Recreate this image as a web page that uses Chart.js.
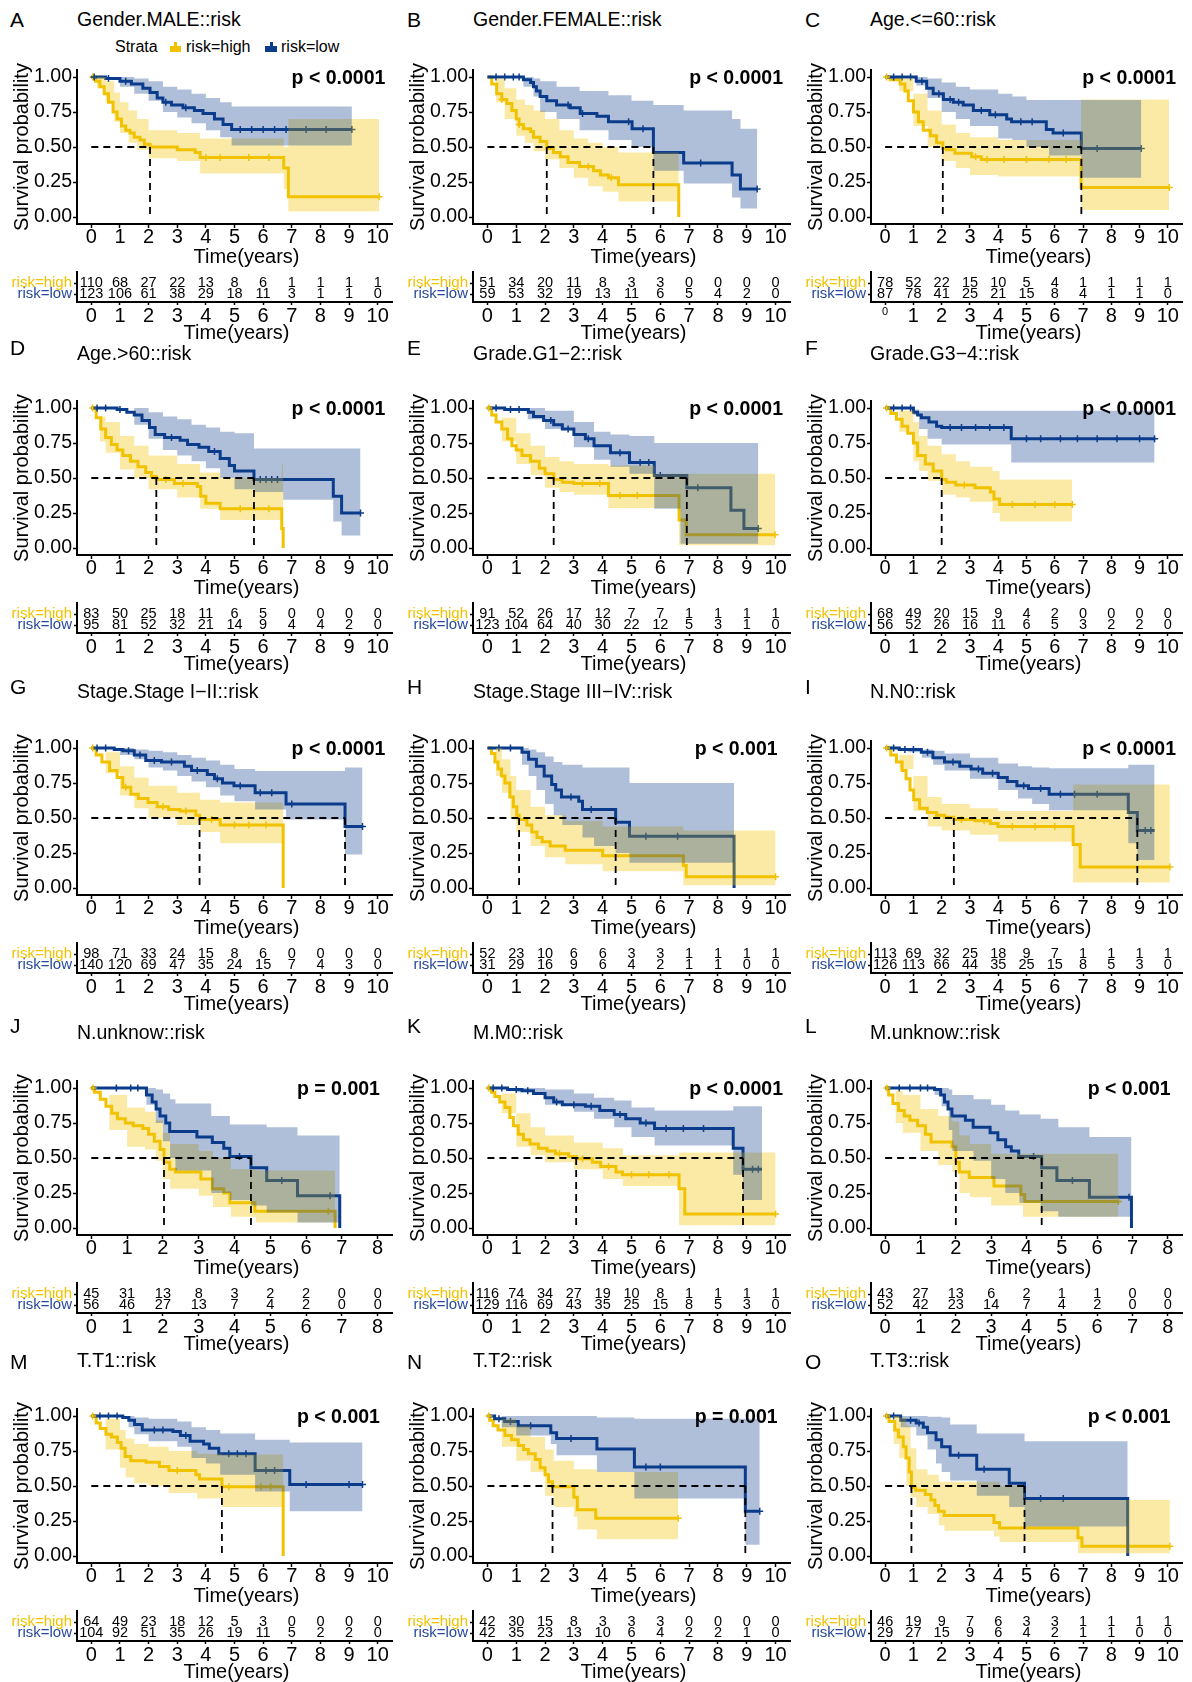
<!DOCTYPE html>
<html>
<head>
<meta charset="utf-8">
<script src="https://cdn.jsdelivr.net/npm/chart.js@4.4.1/dist/chart.umd.min.js"></script>
<style>
  html, body { margin: 0; padding: 0; background: #fff; }
  body { position: relative; width: 1192px; height: 1682px; overflow: hidden;
         font-family: "Liberation Sans", Arial, sans-serif; }
  canvas { position: absolute; }
  .txt { position: absolute; white-space: nowrap; }
</style>
</head>
<body>
<script>
// ---------- Kaplan–Meier estimates: [time (years), survival after step] ----------
// confidence bands: [time, lower, upper]; censor marks: times
const aHigh = [[0,1],[0.15,0.97],[0.3,0.93],[0.45,0.88],[0.6,0.82],[0.76,0.75],[0.9,0.70],[1.05,0.65],[1.2,0.62],[1.35,0.60],[1.5,0.57],[1.7,0.55],[1.85,0.52],[2.05,0.5],[3.0,0.48],[3.63,0.46],[3.8,0.425],[6.72,0.35],[6.88,0.145],[10.05,0.145]];
const aHighCI = [[0,1,1],[0.2,0.92,1],[0.5,0.82,0.97],[0.8,0.68,0.89],[1.0,0.60,0.82],[1.3,0.53,0.76],[1.6,0.48,0.70],[2.0,0.42,0.62],[3.0,0.40,0.60],[3.8,0.31,0.56],[6.72,0.2,0.5],[6.88,0.04,0.70],[10.05,0.04,0.70]];
const aHighCens = [0.05,4.0,4.5,5.5,6.2,10.05];
const aLow = [[0,1],[0.5,0.99],[1.0,0.97],[1.4,0.95],[1.8,0.92],[2.05,0.89],[2.3,0.85],[2.5,0.82],[2.8,0.80],[3.2,0.78],[3.6,0.76],[3.9,0.74],[4.3,0.70],[4.6,0.66],[4.9,0.625],[9.1,0.625]];
const aLowCI = [[0,1,1],[1.0,0.93,1],[1.5,0.88,0.99],[2.0,0.83,0.97],[2.5,0.75,0.93],[3.0,0.71,0.91],[3.5,0.67,0.88],[4.0,0.62,0.85],[4.5,0.57,0.82],[4.9,0.51,0.79],[9.1,0.51,0.79]];
const aLowCens = [0.1,0.6,1.2,2.6,3.3,5.2,5.6,6.0,6.4,6.8,7.5,8.2,9.1];
const aRiskHigh = [110,68,27,22,13,8,6,1,1,1,1];
const aRiskLow = [123,106,61,38,29,18,11,3,1,1,0];

const bHigh = [[0,1],[0.15,0.95],[0.32,0.88],[0.5,0.84],[0.67,0.81],[0.85,0.76],[1.0,0.70],[1.1,0.66],[1.25,0.63],[1.5,0.61],[1.6,0.57],[1.83,0.54],[2.06,0.49],[2.29,0.46],[2.53,0.43],[2.8,0.39],[3.2,0.36],[3.68,0.33],[3.92,0.30],[4.2,0.28],[4.55,0.23],[6.64,0]];
const bHighCI = [[0,1,1],[0.3,0.82,0.99],[0.6,0.70,0.92],[1.0,0.58,0.84],[1.3,0.53,0.80],[1.6,0.47,0.76],[2.0,0.41,0.70],[2.5,0.35,0.62],[3.0,0.28,0.56],[3.5,0.22,0.53],[4.0,0.18,0.50],[4.55,0.11,0.46],[6.64,0.11,0.46]];
const bHighCens = [0.5,1.1,3.5,4.3];
const bLow = [[0,1],[1.25,0.98],[1.5,0.96],[1.6,0.93],[1.7,0.90],[1.83,0.86],[2.06,0.83],[2.4,0.80],[2.87,0.78],[3.22,0.74],[3.8,0.72],[4.2,0.68],[5.02,0.63],[5.76,0.46],[6.81,0.385],[8.49,0.30],[8.78,0.20],[9.36,0.20]];
const bLowCI = [[0,1,1],[1.25,0.93,1],[1.6,0.86,0.99],[1.83,0.75,0.97],[2.4,0.70,0.93],[3.2,0.62,0.90],[4.2,0.55,0.87],[5.0,0.50,0.83],[5.76,0.33,0.80],[6.81,0.24,0.76],[8.49,0.14,0.70],[8.78,0.06,0.63],[9.36,0.06,0.63]];
const bLowCens = [0.3,0.6,0.9,1.1,2.8,3.3,4.9,5.4,7.4,9.36];
const bRiskHigh = [51,34,20,11,8,3,3,0,0,0,0];
const bRiskLow = [59,53,32,19,13,11,6,5,4,2,0];

const cHigh = [[0,1],[0.18,0.98],[0.53,0.95],[0.7,0.90],[0.82,0.83],[1.0,0.75],[1.18,0.68],[1.35,0.62],[1.6,0.58],[1.82,0.53],[2.04,0.49],[2.18,0.48],[2.47,0.455],[3.06,0.43],[3.4,0.41],[6.93,0.21],[10.05,0.21]];
const cHighCI = [[0,1,1],[0.5,0.90,0.99],[1.0,0.65,0.88],[1.5,0.50,0.76],[2.0,0.40,0.66],[2.5,0.35,0.60],[3.0,0.30,0.57],[4.0,0.29,0.55],[6.93,0.05,0.84],[10.05,0.05,0.84]];
const cHighCens = [0.05,3.2,3.6,4.2,5.0,5.8,6.4,10.05];
const cLow = [[0,1],[1.1,0.97],[1.47,0.92],[1.7,0.88],[2.06,0.84],[2.41,0.82],[2.76,0.80],[3.12,0.76],[3.7,0.73],[4.3,0.70],[4.47,0.68],[5.7,0.625],[5.94,0.60],[6.94,0.49],[9.06,0.49]];
const cLowCI = [[0,1,1],[1.1,0.94,1],[1.5,0.85,0.99],[2.0,0.75,0.96],[2.5,0.70,0.93],[3.0,0.65,0.91],[4.0,0.56,0.88],[4.5,0.55,0.86],[5.0,0.50,0.835],[5.8,0.44,0.835],[6.94,0.28,0.835],[9.06,0.28,0.835]];
const cLowCens = [0.3,0.6,0.9,1.3,1.9,2.3,2.6,3.4,3.9,4.8,5.2,6.3,7.5,9.06];
const cRiskHigh = [78,52,22,15,10,5,4,1,1,1,1];
const cRiskLow = [87,78,41,25,21,15,8,4,1,1,0];

const dHigh = [[0,1],[0.17,0.93],[0.33,0.85],[0.5,0.79],[0.7,0.74],[0.9,0.70],[1.1,0.66],[1.37,0.62],[1.63,0.58],[1.9,0.54],[2.1,0.51],[2.27,0.49],[2.9,0.46],[3.7,0.44],[3.82,0.37],[4.0,0.32],[4.5,0.28],[6.65,0.14],[6.7,0]];
const dHighCI = [[0,1,1],[0.3,0.76,0.94],[0.5,0.68,0.90],[1.0,0.56,0.80],[1.5,0.50,0.73],[2.0,0.42,0.66],[3.0,0.36,0.60],[3.8,0.28,0.54],[4.5,0.20,0.50],[6.65,0.17,0.60],[6.7,0.17,0.60]];
const dHighCens = [0.05,2.6,3.2,5.2,6.2];
const dLow = [[0,1],[0.9,0.99],[1.24,0.97],[1.5,0.95],[1.77,0.91],[2.03,0.86],[2.23,0.81],[2.56,0.79],[3.1,0.77],[3.36,0.74],[3.76,0.72],[4.1,0.69],[4.5,0.64],[4.82,0.59],[5.0,0.55],[5.68,0.49],[8.45,0.37],[8.74,0.25],[9.4,0.25]];
const dLowCI = [[0,1,1],[1.5,0.88,1],[2.0,0.78,0.97],[2.5,0.70,0.94],[3.0,0.66,0.92],[3.5,0.62,0.88],[4.0,0.57,0.86],[4.5,0.50,0.83],[5.0,0.42,0.82],[5.68,0.40,0.71],[6.7,0.345,0.71],[8.45,0.19,0.71],[8.74,0.09,0.71],[9.4,0.09,0.71]];
const dLowCens = [0.2,0.5,1.0,2.8,4.3,5.9,6.1,6.3,6.5,9.4];
const dRiskHigh = [83,50,25,18,11,6,5,0,0,0,0];
const dRiskLow = [95,81,52,32,21,14,9,4,4,2,0];

const eHigh = [[0,1],[0.15,0.95],[0.3,0.90],[0.5,0.85],[0.7,0.78],[0.85,0.73],[1.0,0.70],[1.2,0.66],[1.5,0.62],[1.8,0.57],[2.0,0.53],[2.3,0.49],[2.6,0.47],[3.0,0.46],[4.2,0.375],[6.65,0.20],[6.9,0.095],[9.98,0.095]];
const eHighCI = [[0,1,1],[0.5,0.76,0.93],[1.0,0.60,0.82],[1.5,0.52,0.73],[2.0,0.43,0.65],[2.5,0.40,0.62],[3.0,0.38,0.60],[4.2,0.285,0.59],[5.8,0.285,0.53],[6.65,0.02,0.53],[9.98,0.02,0.53]];
const eHighCens = [0.05,3.3,3.9,4.6,5.2,9.98];
const eLow = [[0,1],[0.6,0.99],[1.42,0.97],[1.6,0.94],[1.95,0.91],[2.3,0.88],[2.6,0.85],[3.0,0.81],[3.4,0.78],[3.7,0.73],[4.27,0.68],[4.93,0.61],[5.79,0.517],[6.92,0.43],[8.45,0.27],[8.9,0.14],[9.4,0.14]];
const eLowCI = [[0,1,1],[1.4,0.92,1],[2.0,0.85,0.98],[3.0,0.72,0.90],[3.7,0.63,0.83],[4.27,0.58,0.81],[4.93,0.53,0.80],[5.79,0.28,0.75],[6.7,0.03,0.75],[9.4,0.03,0.75]];
const eLowCens = [0.3,0.8,1.1,2.2,2.8,3.5,4.6,5.3,5.6,6.0,7.3,9.4];
const eRiskHigh = [91,52,26,17,12,7,7,1,1,1,1];
const eRiskLow = [123,104,64,40,30,22,12,5,3,1,0];

const fHigh = [[0,1],[0.2,0.96],[0.4,0.92],[0.6,0.87],[0.8,0.82],[1.0,0.75],[1.15,0.66],[1.42,0.60],[1.7,0.55],[2.0,0.49],[2.16,0.47],[2.5,0.45],[3.18,0.43],[3.72,0.40],[3.85,0.35],[4.05,0.31],[6.62,0.31]];
const fHighCI = [[0,1,1],[0.5,0.83,0.98],[1.0,0.62,0.90],[1.2,0.55,0.80],[1.5,0.48,0.73],[2.0,0.38,0.67],[2.5,0.36,0.62],[3.0,0.33,0.58],[3.8,0.25,0.55],[4.05,0.19,0.49],[6.62,0.19,0.49]];
const fHighCens = [0.05,2.8,4.5,5.3,6.0,6.62];
const fLow = [[0,1],[1.0,0.97],[1.15,0.95],[1.28,0.93],[1.55,0.90],[1.82,0.87],[2.0,0.86],[4.46,0.78],[9.53,0.78]];
const fLowCI = [[0,1,1],[1.0,0.95,0.99],[1.2,0.85,0.98],[1.5,0.78,0.98],[2.0,0.74,0.98],[4.46,0.61,0.98],[9.53,0.61,0.98]];
const fLowCens = [0.3,0.6,0.9,2.3,2.7,3.2,3.7,4.2,5.0,5.5,6.2,6.8,7.5,8.2,9.0,9.53];
const fRiskHigh = [68,49,20,15,9,4,2,0,0,0,0];
const fRiskLow = [56,52,26,16,11,6,5,3,2,2,0];

const gHigh = [[0,1],[0.17,0.95],[0.37,0.90],[0.64,0.84],[0.9,0.79],[1.1,0.72],[1.38,0.67],[1.64,0.64],[1.98,0.61],[2.3,0.58],[2.7,0.56],[3.1,0.55],[3.65,0.52],[3.78,0.49],[4.5,0.45],[6.7,0]];
const gHighCI = [[0,1,1],[0.5,0.82,0.97],[1.0,0.66,0.87],[1.5,0.57,0.79],[2.0,0.50,0.73],[3.0,0.45,0.68],[3.8,0.40,0.63],[4.5,0.32,0.61],[6.7,0.32,0.61]];
const gHighCens = [0.05,1.2,2.5,3.3,4.2,5.0,5.5,6.1];
const gLow = [[0,1],[0.8,0.99],[1.1,0.98],[1.5,0.95],[1.9,0.91],[2.45,0.90],[3.25,0.87],[3.5,0.84],[4.05,0.81],[4.3,0.78],[4.58,0.75],[4.98,0.73],[5.72,0.68],[6.8,0.60],[8.86,0.44],[9.47,0.44]];
const gLowCI = [[0,1,1],[1.0,0.95,1],[1.5,0.92,0.99],[2.0,0.86,0.98],[2.5,0.84,0.97],[3.0,0.80,0.95],[3.5,0.76,0.93],[4.0,0.72,0.91],[4.5,0.66,0.88],[5.0,0.62,0.85],[5.72,0.56,0.835],[6.8,0.49,0.835],[8.86,0.24,0.86],[9.47,0.24,0.86]];
const gLowCens = [0.2,0.5,1.3,1.7,2.2,2.8,3.7,4.4,5.2,5.9,6.3,7.0,9.47];
const gRiskHigh = [98,71,33,24,15,8,6,0,0,0,0];
const gRiskLow = [140,120,69,47,35,24,15,7,4,3,0];

const hHigh = [[0,1],[0.14,0.96],[0.26,0.90],[0.37,0.85],[0.49,0.80],[0.61,0.75],[0.78,0.65],[0.9,0.58],[1.02,0.52],[1.1,0.49],[1.37,0.45],[1.54,0.40],[1.72,0.36],[1.9,0.33],[2.18,0.30],[2.7,0.27],[4.0,0.23],[6.8,0.16],[6.9,0.08],[10.0,0.08]];
const hHighCI = [[0,1,1],[0.3,0.80,1],[0.5,0.68,0.92],[0.8,0.50,0.80],[1.0,0.40,0.70],[1.5,0.30,0.58],[2.0,0.22,0.52],[2.7,0.17,0.48],[4.0,0.12,0.44],[6.8,0.02,0.41],[10.0,0.02,0.41]];
const hHighCens = [10.0];
const hLow = [[0,1],[1.2,0.97],[1.43,0.92],[1.7,0.87],[1.97,0.80],[2.23,0.74],[2.37,0.70],[2.57,0.65],[3.17,0.62],[3.3,0.56],[4.45,0.47],[4.93,0.37],[8.56,0]];
const hLowCI = [[0,1,1],[1.2,0.88,1],[1.43,0.80,0.99],[1.7,0.70,0.97],[2.0,0.60,0.94],[2.3,0.52,0.90],[2.6,0.45,0.88],[3.3,0.36,0.86],[3.7,0.30,0.86],[4.45,0.25,0.86],[4.93,0.18,0.75],[8.56,0.18,0.75]];
const hLowCens = [0.4,0.8,2.9,3.6,5.5,6.6];
const hRiskHigh = [52,23,10,6,6,3,3,1,1,1,1];
const hRiskLow = [31,29,16,9,6,4,2,1,1,0,0];

const iHigh = [[0,1],[0.2,0.95],[0.4,0.90],[0.6,0.84],[0.74,0.78],[0.88,0.70],[1.01,0.63],[1.22,0.57],[1.49,0.54],[1.82,0.52],[2.1,0.505],[2.43,0.49],[3.18,0.48],[3.72,0.46],[3.99,0.44],[6.65,0.31],[6.9,0.15],[10.07,0.15]];
const iHighCI = [[0,1,1],[0.5,0.85,0.95],[1.0,0.55,0.80],[1.5,0.44,0.65],[2.0,0.41,0.60],[3.0,0.38,0.57],[4.0,0.33,0.55],[6.65,0.04,0.74],[10.07,0.04,0.74]];
const iHighCens = [0.05,2.7,3.5,4.5,5.3,6.0,10.07];
const iLow = [[0,1],[0.5,0.99],[1.28,0.97],[1.69,0.93],[2.1,0.90],[2.64,0.87],[3.04,0.85],[3.45,0.82],[4.0,0.79],[4.32,0.76],[4.66,0.73],[5.07,0.71],[5.8,0.67],[8.6,0.54],[8.92,0.41],[9.53,0.41]];
const iLowCI = [[0,1,1],[0.8,0.97,1],[1.3,0.93,0.99],[1.7,0.88,0.98],[2.1,0.84,0.96],[3.0,0.78,0.93],[4.0,0.70,0.89],[4.7,0.64,0.87],[5.2,0.60,0.86],[5.8,0.555,0.855],[8.6,0.32,0.88],[8.92,0.20,0.88],[9.53,0.20,0.88]];
const iLowCens = [0.3,0.7,1.0,1.5,2.4,3.3,3.8,4.9,5.5,6.2,6.7,7.5,9.2,9.4];
const iRiskHigh = [113,69,32,25,18,9,7,1,1,1,1];
const iRiskLow = [126,113,66,44,35,25,15,8,5,3,0];

const jHigh = [[0,1],[0.09,0.97],[0.25,0.92],[0.41,0.87],[0.57,0.82],[0.73,0.78],[0.95,0.75],[1.17,0.73],[1.44,0.71],[1.6,0.67],[1.76,0.62],[1.92,0.56],[2.03,0.47],[2.19,0.42],[2.35,0.40],[3.06,0.35],[3.38,0.28],[3.7,0.25],[3.87,0.18],[4.57,0.12],[6.81,0]];
const jHighCI = [[0,1,1],[0.5,0.70,0.95],[1.0,0.58,0.86],[1.5,0.56,0.83],[1.8,0.48,0.77],[2.0,0.35,0.68],[2.2,0.28,0.60],[3.0,0.23,0.55],[3.4,0.15,0.50],[3.9,0.08,0.42],[4.6,0.04,0.41],[6.81,0.04,0.41]];
const jHighCens = [0.05,6.62];
const jLow = [[0,1],[1.54,0.95],[1.7,0.90],[1.81,0.85],[1.92,0.80],[2.08,0.75],[2.19,0.69],[2.95,0.65],[3.38,0.61],[3.7,0.57],[3.87,0.51],[4.46,0.43],[4.9,0.34],[5.76,0.23],[6.94,0]];
const jLowCI = [[0,1,1],[1.54,0.88,1],[1.8,0.75,0.99],[2.0,0.62,0.96],[2.2,0.50,0.92],[2.35,0.41,0.89],[3.35,0.25,0.80],[3.87,0.20,0.74],[4.46,0.16,0.74],[4.9,0.11,0.72],[5.76,0.04,0.66],[6.94,0.04,0.66]];
const jLowCens = [0.7,1.1,1.3,4.14,5.32,6.67];
const jRiskHigh = [45,31,13,8,3,2,2,0,0];
const jRiskLow = [56,46,27,13,7,4,2,0,0];

const kHigh = [[0,1],[0.14,0.97],[0.26,0.94],[0.43,0.90],[0.61,0.86],[0.78,0.79],[0.9,0.73],[1.07,0.67],[1.25,0.63],[1.48,0.60],[1.77,0.57],[2.07,0.55],[2.36,0.53],[2.82,0.51],[3.08,0.495],[3.64,0.47],[3.93,0.44],[4.46,0.40],[4.69,0.38],[6.65,0.28],[6.85,0.10],[10.0,0.10]];
const kHighCI = [[0,1,1],[0.5,0.82,0.96],[1.0,0.58,0.82],[1.5,0.52,0.72],[2.0,0.47,0.66],[3.0,0.42,0.61],[4.0,0.35,0.57],[4.7,0.30,0.52],[6.65,0.02,0.54],[10.0,0.02,0.54]];
const kHighCens = [0.05,2.5,3.3,4.2,5.0,5.6,6.3,10.0];
const kLow = [[0,1],[0.7,0.99],[1.2,0.98],[1.6,0.96],[2.0,0.93],[2.3,0.90],[2.6,0.88],[3.4,0.87],[3.9,0.84],[4.4,0.81],[4.8,0.78],[5.3,0.75],[5.8,0.71],[8.53,0.57],[8.87,0.42],[9.53,0.42]];
const kLowCI = [[0,1,1],[1.0,0.97,1],[2.0,0.88,0.99],[3.0,0.83,0.96],[3.7,0.78,0.93],[4.4,0.72,0.91],[5.0,0.65,0.86],[5.8,0.59,0.84],[8.53,0.38,0.87],[8.87,0.2,0.87],[9.53,0.2,0.87]];
const kLowCens = [0.2,0.5,1.0,1.4,2.4,3.0,3.6,4.6,5.5,6.2,6.8,7.5,9.2,9.4];
const kRiskHigh = [116,74,34,27,19,10,8,1,1,1,1];
const kRiskLow = [129,116,69,43,35,25,15,8,5,3,0];

const lHigh = [[0,1],[0.1,0.95],[0.22,0.89],[0.38,0.84],[0.54,0.80],[0.7,0.77],[0.92,0.73],[1.14,0.67],[1.3,0.615],[1.89,0.58],[2.0,0.47],[2.1,0.40],[2.38,0.36],[3.08,0.30],[3.84,0.24],[3.95,0.19],[6.6,0.19]];
const lHighCI = [[0,1,1],[0.3,0.75,0.98],[0.5,0.68,0.95],[1.0,0.55,0.85],[1.5,0.45,0.80],[1.9,0.40,0.76],[2.1,0.25,0.66],[2.4,0.22,0.60],[3.0,0.16,0.53],[3.9,0.08,0.53],[6.6,0.08,0.53]];
const lHighCens = [0.05,6.6];
const lLow = [[0,1],[1.4,0.99],[1.57,0.95],[1.68,0.90],[1.78,0.85],[1.89,0.80],[2.27,0.77],[2.49,0.72],[2.97,0.68],[3.19,0.63],[3.41,0.58],[3.57,0.55],[3.78,0.51],[4.43,0.43],[4.86,0.34],[5.78,0.22],[6.97,0]];
const lLowCI = [[0,1,1],[1.4,0.95,1],[1.6,0.87,1],[1.8,0.70,0.99],[1.9,0.55,0.95],[2.5,0.48,0.92],[3.0,0.35,0.88],[3.4,0.25,0.84],[3.8,0.18,0.81],[4.4,0.12,0.78],[4.9,0.08,0.72],[5.78,0.08,0.65],[6.97,0.08,0.65]];
const lLowCens = [0.4,0.7,1.0,1.2,4.2,5.3,6.9];
const lRiskHigh = [43,27,13,6,2,1,1,0,0];
const lRiskLow = [52,42,23,14,7,4,2,0,0];

const mHigh = [[0,1],[0.17,0.95],[0.31,0.91],[0.51,0.87],[0.71,0.85],[0.91,0.81],[1.04,0.77],[1.18,0.71],[1.38,0.68],[1.91,0.67],[2.38,0.64],[2.71,0.61],[3.65,0.58],[3.78,0.55],[4.56,0.495],[6.7,0]];
const mHighCI = [[0,1,1],[0.5,0.76,0.98],[1.0,0.63,0.90],[1.2,0.56,0.84],[1.5,0.52,0.80],[2.0,0.50,0.78],[2.7,0.45,0.75],[3.7,0.41,0.73],[4.56,0.35,0.725],[6.7,0.35,0.725]];
const mHighCens = [0.05,3.0,4.8,5.92,6.26];
const mLow = [[0,1],[1.1,0.99],[1.31,0.97],[1.51,0.94],[1.78,0.90],[2.85,0.89],[3.11,0.86],[3.45,0.82],[3.92,0.80],[4.12,0.77],[4.45,0.73],[5.72,0.61],[6.93,0.51],[9.47,0.51]];
const mLowCI = [[0,1,1],[1.3,0.92,1],[1.5,0.87,0.99],[2.0,0.82,0.98],[3.0,0.78,0.96],[3.5,0.70,0.92],[4.0,0.66,0.90],[4.5,0.58,0.875],[5.72,0.46,0.83],[6.93,0.32,0.81],[9.47,0.32,0.81]];
const mLowCens = [0.3,0.6,0.9,2.2,2.5,3.3,4.8,5.1,5.4,6.1,6.4,7.5,9.0,9.47];
const mRiskHigh = [64,49,23,18,12,5,3,0,0,0,0];
const mRiskLow = [104,92,51,35,26,19,11,5,2,2,0];

const nHigh = [[0,1],[0.08,0.97],[0.2,0.93],[0.37,0.90],[0.61,0.86],[0.84,0.83],[1.07,0.79],[1.25,0.76],[1.42,0.73],[1.66,0.69],[1.83,0.63],[2.0,0.58],[2.12,0.53],[2.26,0.495],[3.0,0.42],[3.12,0.33],[3.76,0.27],[6.62,0.27]];
const nHighCI = [[0,1,1],[0.5,0.78,0.98],[1.0,0.68,0.93],[1.5,0.60,0.85],[2.0,0.43,0.76],[2.3,0.35,0.68],[3.0,0.28,0.62],[3.12,0.19,0.62],[3.8,0.12,0.60],[6.62,0.12,0.60]];
const nHighCens = [0.05,6.62];
const nLow = [[0,1],[0.25,0.98],[0.6,0.96],[1.07,0.93],[2.2,0.88],[2.4,0.84],[3.8,0.765],[5.1,0.635],[8.95,0.32],[9.45,0.32]];
const nLowCI = [[0,1,1],[0.5,0.92,1],[1.0,0.86,1],[2.2,0.80,1],[2.4,0.72,1],[3.8,0.60,0.99],[5.1,0.41,0.98],[8.95,0.08,0.98],[9.45,0.08,0.98]];
const nLowCens = [0.4,0.8,1.5,2.9,5.5,6.0,9.45];
const nRiskHigh = [42,30,15,8,3,3,3,0,0,0,0];
const nRiskLow = [42,35,23,13,10,6,4,2,2,1,0];

const oHigh = [[0,1],[0.14,0.96],[0.34,0.90],[0.47,0.85],[0.64,0.78],[0.74,0.70],[0.85,0.60],[0.93,0.49],[1.08,0.47],[1.42,0.44],[1.62,0.40],[1.76,0.36],[1.89,0.32],[2.09,0.29],[3.85,0.24],[4.05,0.20],[6.82,0.13],[6.96,0.07],[10.07,0.07]];
const oHighCI = [[0,1,1],[0.3,0.80,1],[0.5,0.70,0.99],[0.75,0.50,0.93],[0.9,0.42,0.77],[1.1,0.35,0.62],[1.5,0.30,0.58],[1.9,0.22,0.53],[2.1,0.18,0.53],[3.85,0.14,0.53],[4.05,0.10,0.50],[4.93,0.10,0.40],[6.82,0.02,0.40],[10.07,0.02,0.40]];
const oHighCens = [0.05,10.07];
const oLow = [[0,1],[0.55,0.97],[1.1,0.95],[1.35,0.92],[1.5,0.88],[1.8,0.83],[2.0,0.78],[2.3,0.72],[3.24,0.62],[4.39,0.52],[4.93,0.41],[8.58,0]];
const oLowCI = [[0,1,1],[0.55,0.92,1],[1.1,0.86,1],[1.5,0.76,0.995],[1.8,0.66,0.995],[2.0,0.60,0.99],[2.3,0.54,0.94],[3.24,0.43,0.875],[4.39,0.35,0.875],[4.93,0.21,0.82],[8.58,0.21,0.82]];
const oLowCens = [0.3,0.9,1.2,2.6,3.5,5.5,6.3];
const oRiskHigh = [46,19,9,7,6,3,3,1,1,1,1];
const oRiskLow = [29,27,15,9,6,4,2,1,1,0,0];

// ---------- panel descriptions ----------
const panelLetters = ['A','B','C','D','E','F','G','H','I','J','K','L','M','N','O'];
const panelTitles = ['Gender.MALE::risk','Gender.FEMALE::risk','Age.<=60::risk','Age.>60::risk',
  'Grade.G1\u22122::risk','Grade.G3\u22124::risk','Stage.Stage I\u2212II::risk','Stage.Stage III\u2212IV::risk',
  'N.N0::risk','N.unknow::risk','M.M0::risk','M.unknow::risk','T.T1::risk','T.T2::risk','T.T3::risk'];
const pLabels = ['p < 0.0001','p < 0.0001','p < 0.0001','p < 0.0001','p < 0.0001','p < 0.0001',
  'p < 0.0001','p < 0.001','p < 0.0001','p = 0.001','p < 0.0001','p < 0.001','p < 0.001','p = 0.001','p < 0.001'];
const axisYears = [10,10,10,10,10,10,10,10,10,8,10,8,10,10,10];
const strataLabels = ['risk=high','risk=low'];

const highCurves = [aHigh,bHigh,cHigh,dHigh,eHigh,fHigh,gHigh,hHigh,iHigh,jHigh,kHigh,lHigh,mHigh,nHigh,oHigh];
const highBands = [aHighCI,bHighCI,cHighCI,dHighCI,eHighCI,fHighCI,gHighCI,hHighCI,iHighCI,jHighCI,kHighCI,lHighCI,mHighCI,nHighCI,oHighCI];
const highCensor = [aHighCens,bHighCens,cHighCens,dHighCens,eHighCens,fHighCens,gHighCens,hHighCens,iHighCens,jHighCens,kHighCens,lHighCens,mHighCens,nHighCens,oHighCens];
const lowCurves = [aLow,bLow,cLow,dLow,eLow,fLow,gLow,hLow,iLow,jLow,kLow,lLow,mLow,nLow,oLow];
const lowBands = [aLowCI,bLowCI,cLowCI,dLowCI,eLowCI,fLowCI,gLowCI,hLowCI,iLowCI,jLowCI,kLowCI,lLowCI,mLowCI,nLowCI,oLowCI];
const lowCensor = [aLowCens,bLowCens,cLowCens,dLowCens,eLowCens,fLowCens,gLowCens,hLowCens,iLowCens,jLowCens,kLowCens,lLowCens,mLowCens,nLowCens,oLowCens];
const riskHighRows = [aRiskHigh,bRiskHigh,cRiskHigh,dRiskHigh,eRiskHigh,fRiskHigh,gRiskHigh,hRiskHigh,iRiskHigh,jRiskHigh,kRiskHigh,lRiskHigh,mRiskHigh,nRiskHigh,oRiskHigh];
const riskLowRows = [aRiskLow,bRiskLow,cRiskLow,dRiskLow,eRiskLow,fRiskLow,gRiskLow,hRiskLow,iRiskLow,jRiskLow,kRiskLow,lRiskLow,mRiskLow,nRiskLow,oRiskLow];

// ---------- styling and grid geometry ----------
const FONT = '"Liberation Sans", Arial, sans-serif';
const HIGH_COLOR = '#F2C200';
const LOW_COLOR = '#0B3C8C';
const HIGH_FILL = 'rgba(242,194,0,0.35)';
const LOW_FILL = 'rgba(11,60,140,0.33)';
const HIGH_TEXT = '#F2C200';
const LOW_TEXT = '#27489B';

const colZero = [91, 487, 885];     // pixel of t = 0
const colEnd = [377, 775, 1168];    // pixel of the last year tick
const rowTop = [77, 408, 748, 1088, 1416];   // pixel of survival = 1.00
const letterX = [10, 407, 805];
const titleX = [77, 473, 870];
const letterDy = [-58, -60.5, -62, -63, -55];
const titleDy = [-57, -54, -56, -55.5, -55.5];

Chart.defaults.font.family = FONT;
Chart.defaults.color = '#000';

function addText(txt, x, cy, size, color, weight) {
  const d = document.createElement('div');
  d.className = 'txt';
  d.textContent = txt;
  d.style.left = x + 'px';
  d.style.top = (cy - size / 2) + 'px';
  d.style.fontSize = size + 'px';
  d.style.lineHeight = size + 'px';
  d.style.color = color || '#000';
  if (weight) d.style.fontWeight = weight;
  document.body.appendChild(d);
}
function addBox(x, y, w, h, color) {
  const d = document.createElement('div');
  d.style.cssText = `position:absolute;left:${x}px;top:${y}px;width:${w}px;height:${h}px;background:${color}`;
  document.body.appendChild(d);
}

function survivalAt(curve, t) {
  let s = curve[0][1];
  for (const [ti, si] of curve) { if (ti <= t) s = si; else break; }
  return s;
}
function medianOf(curve) {
  for (const [t, s] of curve) if (s <= 0.5) return t;
  return null;
}
const pts = (arr, i) => arr.map(r => ({x: r[0], y: r[i]}));

// p-value and x title drawn inside the survival panel
const kmText = {
  id: 'kmText',
  afterDraw(chart, args, opts) {
    const {ctx, chartArea: a} = chart;
    ctx.save();
    ctx.fillStyle = '#000';
    ctx.textAlign = 'center';
    ctx.textBaseline = 'middle';
    ctx.font = '20px ' + FONT;
    ctx.fillText('Time(years)', (a.left + a.right) / 2 + 12, a.bottom + 33);
    ctx.font = 'bold 19.5px ' + FONT;
    ctx.fillText(opts.p, a.left + 0.83 * (a.right - a.left), a.top + 9);
    ctx.restore();
  }
};
// numbers at risk, placed at their data points
const riskText = {
  id: 'riskText',
  afterDatasetsDraw(chart) {
    const {ctx, chartArea: a} = chart;
    ctx.save();
    ctx.fillStyle = '#000';
    ctx.textAlign = 'center';
    ctx.textBaseline = 'middle';
    ctx.font = '14.5px ' + FONT;
    chart.data.datasets.forEach((ds, di) => {
      chart.getDatasetMeta(di).data.forEach((el, j) => {
        ctx.fillText(String(ds.data[j].n), el.x, el.y);
      });
    });
    ctx.font = '20px ' + FONT;
    ctx.fillText('Time(years)', (a.left + a.right) / 2 + 2, a.bottom + 31);
    ctx.restore();
  }
};

function axisStyle(tickLen) {
  return {
    grid: {drawOnChartArea: false, tickLength: tickLen, tickColor: '#000', tickWidth: 1.5},
    border: {display: true, color: '#000', width: 2}
  };
}

function buildPanel(k) {
  const c = k % 3, r = Math.floor(k / 3);
  const years = axisYears[k];
  const span = colEnd[c] - colZero[c];
  const areaLeft = Math.round(colZero[c] - 0.05 * span);
  const areaW = Math.round(1.1 * span);
  const Y1 = rowTop[r];
  const yearTicks = Array.from({length: years + 1}, (_, i) => i);

  addText(panelLetters[k], letterX[c], Y1 + letterDy[r], 21);
  addText(panelTitles[k], titleX[c], Y1 + titleDy[r], 19.5);

  // ---- survival curves ----
  const areaTop = Y1 - 7, areaH = 154;
  const cv = document.createElement('canvas');
  cv.width = 72 + areaW + 16;
  cv.height = 16 + areaH + 45;
  cv.style.left = (areaLeft - 72) + 'px';
  cv.style.top = (areaTop - 16) + 'px';
  document.body.appendChild(cv);

  const hi = highCurves[k], lo = lowCurves[k];
  const medians = [medianOf(hi), medianOf(lo)].filter(m => m !== null);
  const datasets = [
    {data: pts(highBands[k], 1), borderWidth: 0, pointRadius: 0, stepped: true, fill: false, order: 3},
    {data: pts(highBands[k], 2), borderWidth: 0, pointRadius: 0, stepped: true, fill: '-1', backgroundColor: HIGH_FILL, order: 3},
    {data: pts(lowBands[k], 1), borderWidth: 0, pointRadius: 0, stepped: true, fill: false, order: 2},
    {data: pts(lowBands[k], 2), borderWidth: 0, pointRadius: 0, stepped: true, fill: '-1', backgroundColor: LOW_FILL, order: 2},
    {data: pts(hi, 1), borderColor: HIGH_COLOR, borderWidth: 3, pointRadius: 0, stepped: true, fill: false, order: 7},
    {data: pts(lo, 1), borderColor: LOW_COLOR, borderWidth: 3, pointRadius: 0, stepped: true, fill: false, order: 6},
    {data: highCensor[k].map(t => ({x: t, y: survivalAt(hi, t)})), showLine: false, pointStyle: 'cross',
     pointRadius: 3.5, pointBorderWidth: 1.5, pointBorderColor: HIGH_COLOR, borderColor: HIGH_COLOR, order: 5},
    {data: lowCensor[k].map(t => ({x: t, y: survivalAt(lo, t)})), showLine: false, pointStyle: 'cross',
     pointRadius: 3.5, pointBorderWidth: 1.5, pointBorderColor: LOW_COLOR, borderColor: LOW_COLOR, order: 4}
  ];
  if (medians.length) {
    const dash = {borderColor: '#000', borderWidth: 1.8, borderDash: [7, 5], pointRadius: 0, fill: false, order: 0};
    datasets.push(Object.assign({data: [{x: 0, y: 0.5}, {x: Math.max(...medians), y: 0.5}]}, dash));
    medians.forEach(m => datasets.push(Object.assign({data: [{x: m, y: 0.5}, {x: m, y: 0}]}, dash)));
  }

  new Chart(cv, {
    type: 'line',
    data: {datasets},
    options: {
      responsive: false, animation: false, devicePixelRatio: 1, events: [],
      layout: {padding: {top: 16, right: 16, left: 0, bottom: 0}},
      plugins: {legend: {display: false}, tooltip: {enabled: false}, kmText: {p: pLabels[k]}},
      scales: {
        x: Object.assign({
          type: 'linear', min: -0.05 * years, max: 1.05 * years,
          afterBuildTicks: s => { s.ticks = yearTicks.map(v => ({value: v})); },
          afterFit: s => { s.height = 45; },
          ticks: {autoSkip: false, maxRotation: 0, color: '#000', padding: -1,
                  font: {size: 20, lineHeight: 1}, callback: v => String(v)}
        }, axisStyle(4)),
        y: Object.assign({
          type: 'linear', min: -0.05, max: 1.05,
          afterBuildTicks: s => { s.ticks = [0, 0.25, 0.5, 0.75, 1].map(v => ({value: v})); },
          afterFit: s => { s.width = 72; },
          ticks: {autoSkip: false, color: '#000', padding: 1,
                  font: {size: 19.5, lineHeight: 1}, callback: v => v.toFixed(2)},
          title: {display: true, text: 'Survival probability', color: '#000',
                  font: {size: 20, lineHeight: 1}, padding: {top: 7.5, bottom: 0}}
        }, axisStyle(4))
      }
    },
    plugins: [kmText]
  });

  // ---- numbers at risk ----
  const tTop = Y1 + 195, tH = 30;
  const tv = document.createElement('canvas');
  tv.width = 72 + areaW + 16;
  tv.height = 10 + tH + 45;
  tv.style.left = (areaLeft - 72) + 'px';
  tv.style.top = (tTop - 10) + 'px';
  document.body.appendChild(tv);

  new Chart(tv, {
    type: 'scatter',
    data: {datasets: [
      {data: riskHighRows[k].map((n, i) => ({x: i, y: 1, n})), pointRadius: 0},
      {data: riskLowRows[k].map((n, i) => ({x: i, y: 2, n})), pointRadius: 0}
    ]},
    options: {
      responsive: false, animation: false, devicePixelRatio: 1, events: [],
      layout: {padding: {top: 10, right: 16, left: 0, bottom: 0}},
      plugins: {legend: {display: false}, tooltip: {enabled: false}},
      scales: {
        x: Object.assign({
          type: 'linear', min: -0.05 * years, max: 1.05 * years,
          afterBuildTicks: s => { s.ticks = yearTicks.map(v => ({value: v})); },
          afterFit: s => { s.height = 45; },
          ticks: {autoSkip: false, maxRotation: 0, color: '#000', padding: 1,
                  font: ctx => ({size: (k === 2 && ctx.index === 0) ? 11 : 20, lineHeight: 1, family: FONT}),
                  callback: v => String(v)}
        }, axisStyle(3)),
        y: Object.assign({
          type: 'linear', min: 0, max: 2.7, reverse: true,
          afterBuildTicks: s => { s.ticks = [{value: 1}, {value: 2}]; },
          afterFit: s => { s.width = 72; },
          ticks: {autoSkip: false, padding: 2, font: {size: 15, lineHeight: 1},
                  color: ctx => ctx.index === 0 ? HIGH_TEXT : LOW_TEXT,
                  callback: v => strataLabels[v - 1]}
        }, axisStyle(3))
      }
    },
    plugins: [riskText]
  });
}

// legend of the first panel
addText('Strata', 115, 47, 16);
addBox(170, 46, 11, 6, HIGH_COLOR); addBox(174, 42, 3, 5, HIGH_COLOR);
addText('risk=high', 186, 47, 16);
addBox(265, 46, 12, 6, LOW_COLOR); addBox(269.5, 42, 3, 5, LOW_COLOR);
addText('risk=low', 281, 47, 16);

for (let k = 0; k < 15; k++) buildPanel(k);
</script>
</body>
</html>
